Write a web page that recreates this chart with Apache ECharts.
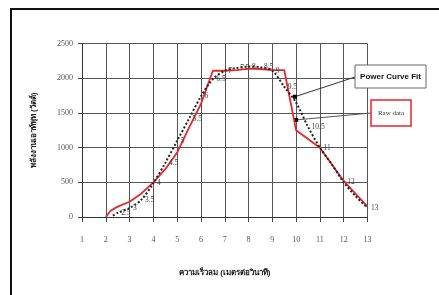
<!DOCTYPE html>
<html>
<head>
<meta charset="utf-8">
<script src="https://cdn.jsdelivr.net/npm/echarts@6/dist/echarts.min.js"></script>
<style>
  html, body { margin: 0; padding: 0; background: #fff; }
  #chart { width: 439px; height: 295px; }
</style>
</head>
<body>
<div id="chart"></div>
<script>
// ข้อมูลดิบ (Raw data)
var rawX = [2, 2.2, 2.5, 3, 3.5, 4, 4.5, 5, 5.5, 6, 6.5, 7, 7.5, 8, 8.5, 9, 9.5, 10, 11, 12, 13];
var rawY = [0, 90, 150, 220, 340, 500, 690, 930, 1290, 1630, 2110, 2110, 2120, 2140, 2135, 2120, 2120, 1250, 1000, 520, 150];

// Power Curve Fit
var fitX = [2.3, 2.5, 3, 3.5, 4, 4.5, 5, 5.5, 6, 6.5, 7, 7.5, 8, 8.5, 9, 9.5, 10, 10.5, 11, 11.5, 12, 12.5, 13];
var fitY = [20, 60, 130, 250, 490, 780, 1100, 1420, 1740, 1990, 2110, 2150, 2170, 2160, 2110, 1880, 1650, 1300, 1000, 760, 500, 300, 130];
var fitLabels = [2.5, 3, 3.5, 4, 4.5, 5, 5.5, 6, 6.5, 7, 7.5, 8, 8.5, 9, 9.5, 10.5, 11, 12, 13];

var xTicks = [1, 13, 1];      // min, max, interval
var yTicks = [0, 2500, 500];

var fitAnchor = [9.95, 1735];
var rawAnchor = [10, 1400];

function pairs(xs, ys) {
  return xs.map(function (x, i) { return [x, ys[i]]; });
}

var chart = echarts.init(document.getElementById('chart'));
chart.setOption({
  animation: false,
  backgroundColor: '#fff',
  grid: { left: 82, right: 71.5, top: 43.7, bottom: 78 },
  xAxis: {
    type: 'value',
    min: xTicks[0], max: xTicks[1], interval: xTicks[2],
    name: 'ความเร็วลม (เมตรต่อวินาที)',
    nameLocation: 'middle',
    nameGap: 52,
    nameTextStyle: { fontSize: 8, fontWeight: 'bold', color: '#222' },
    axisLine: { lineStyle: { color: '#333' } },
    axisTick: { show: true, length: 5, lineStyle: { color: '#444' } },
    axisLabel: { margin: 19, fontSize: 8, color: '#555', fontFamily: 'Liberation Serif' },
    splitLine: { lineStyle: { color: '#555', width: 1 } }
  },
  yAxis: {
    type: 'value',
    min: yTicks[0], max: yTicks[1], interval: yTicks[2],
    name: 'พลังงานเอาท์พุท (วัตต์)',
    nameLocation: 'middle',
    nameGap: 44,
    nameTextStyle: { fontSize: 8, fontWeight: 'bold', color: '#222' },
    axisLine: { show: true, lineStyle: { color: '#333' } },
    axisTick: { show: true, length: 4, lineStyle: { color: '#444' } },
    axisLabel: { margin: 9, fontSize: 8, color: '#555', fontFamily: 'Liberation Serif',
      formatter: function (v) { return String(v); } },
    splitLine: { lineStyle: { color: '#555', width: 1 } }
  },
  series: [
    {
      name: 'Raw data',
      type: 'line',
      data: pairs(rawX, rawY),
      showSymbol: false,
      lineStyle: { color: '#e8262c', width: 1.8 },
      z: 3
    },
    {
      name: 'Power Curve Fit',
      type: 'line',
      data: pairs(fitX, fitY),
      smooth: 0.3,
      showSymbol: true,
      symbol: 'circle',
      symbolSize: 1,
      itemStyle: { color: 'rgba(0,0,0,0)' },
      lineStyle: { color: '#222', width: 2, type: 'dotted' },
      labelLayout: { hideOverlap: false },
      label: {
        show: true,
        position: 'right',
        distance: 3,
        fontSize: 7.5,
        color: '#444',
        fontFamily: 'Liberation Serif',
        formatter: function (p) {
          return fitLabels.indexOf(p.value[0]) >= 0 ? String(p.value[0]) : '';
        }
      },
      z: 4
    }
  ]
});

// กล่องคำอธิบายและเส้นชี้
var pf = chart.convertToPixel({ gridIndex: 0 }, fitAnchor);
var pr = chart.convertToPixel({ gridIndex: 0 }, rawAnchor);
chart.setOption({
  graphic: [
    // กรอบรูป
    { type: 'polyline', shape: { points: [[11, 295], [11, 9], [439, 9]] },
      style: { stroke: '#111', lineWidth: 2, fill: null } },
    { type: 'line', shape: { x1: pf[0], y1: pf[1], x2: 355, y2: 77 },
      style: { stroke: '#333', lineWidth: 1 } },
    { type: 'line', shape: { x1: pr[0], y1: pr[1], x2: 371, y2: 113 },
      style: { stroke: '#555', lineWidth: 1 } },
    { type: 'rect', shape: { x: pf[0] - 2, y: pf[1] - 2, width: 4, height: 4 },
      style: { fill: '#000' } },
    { type: 'rect', shape: { x: pr[0] - 2, y: pr[1] - 2, width: 4, height: 4 },
      style: { fill: '#000' } },
    { type: 'rect', shape: { x: 355, y: 65, width: 71, height: 23 },
      style: { fill: '#fff', stroke: '#666', lineWidth: 1 } },
    { type: 'text', x: 390.5, y: 76.5,
      style: { text: 'Power Curve Fit', fontSize: 8, fontWeight: 'bold', fill: '#111',
        fontFamily: 'Liberation Sans', align: 'center', verticalAlign: 'middle' } },
    { type: 'rect', shape: { x: 371, y: 100, width: 40, height: 26 },
      style: { fill: '#fff', stroke: '#e8262c', lineWidth: 1.5 } },
    { type: 'text', x: 391, y: 113,
      style: { text: 'Raw data', fontSize: 7, fill: '#333',
        fontFamily: 'Liberation Serif', align: 'center', verticalAlign: 'middle' } }
  ]
});
</script>
</body>
</html>
